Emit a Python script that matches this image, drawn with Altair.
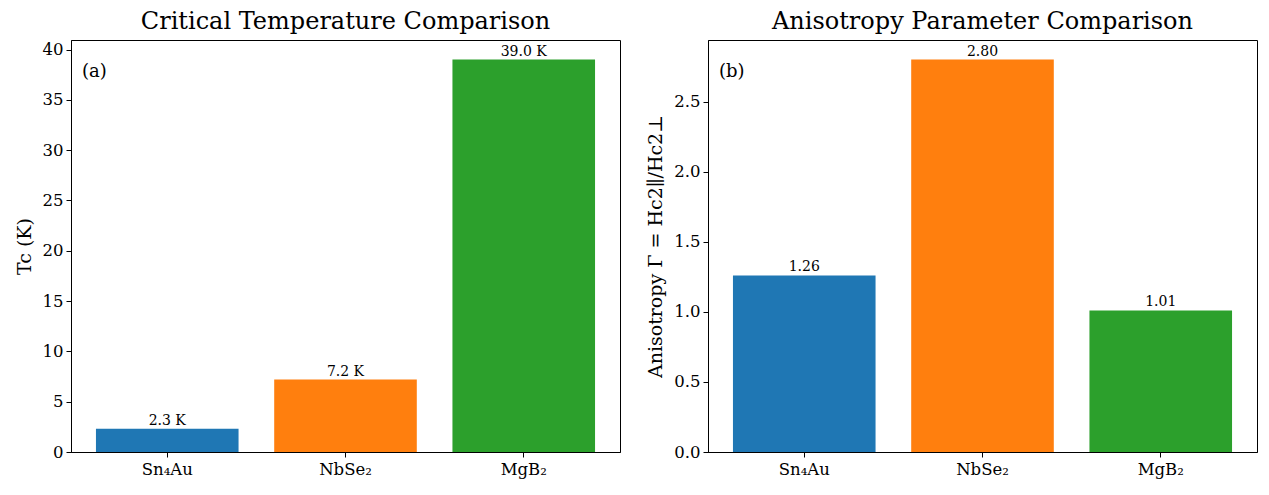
import altair as alt
import pandas as pd

materials = ["Sn₄Au", "NbSe₂", "MgB₂"]
tc_values = [2.3, 7.2, 39.0]
tc_labels = ["2.3 K", "7.2 K", "39.0 K"]
gamma_values = [1.26, 2.80, 1.01]
gamma_labels = ["1.26", "2.80", "1.01"]
bar_colors = ["#1f77b4", "#ff7f0e", "#2ca02c"]

FONT = "DejaVu Serif"

df = pd.DataFrame({
    "material": materials,
    "tc": tc_values,
    "tc_label": tc_labels,
    "gamma": gamma_values,
    "gamma_label": gamma_labels,
})

W, H = 549, 412


def panel(field, label_field, domain_max, tick_vals, fmt, ytitle, title, tag):
    x = alt.X("material:N", sort=materials,
              scale=alt.Scale(paddingInner=0.2, paddingOuter=0.14),
              axis=alt.Axis(title=None, labelAngle=0, labelFontSize=16.5,
                            labelPadding=4, tickSize=5))
    y = alt.Y(f"{field}:Q",
              scale=alt.Scale(domain=[0, domain_max], nice=False, zero=True),
              axis=alt.Axis(values=tick_vals, format=fmt, title=ytitle,
                            labelFontSize=16.5, titleFontSize=19,
                            titleFontWeight="normal", titlePadding=8,
                            tickSize=5, labelPadding=3, grid=False))
    base = alt.Chart(df)
    bars = base.mark_bar().encode(
        x=x, y=y,
        color=alt.Color("material:N",
                        scale=alt.Scale(domain=materials, range=bar_colors),
                        legend=None),
    )
    texts = base.mark_text(baseline="bottom", dy=-1, fontSize=14,
                           font=FONT, color="black").encode(
        x=alt.X("material:N", sort=materials),
        y=alt.Y(f"{field}:Q"),
        text=alt.Text(f"{label_field}:N"),
    )
    tag_df = pd.DataFrame({"t": [tag]})
    tag_mark = alt.Chart(tag_df).mark_text(
        align="left", baseline="middle", fontSize=18, font=FONT,
        color="black").encode(
        x=alt.value(11), y=alt.value(32), text="t:N")
    return alt.layer(bars, texts, tag_mark).properties(
        width=W, height=H,
        title=alt.TitleParams(title, fontSize=24, font=FONT,
                              fontWeight="normal", anchor="middle",
                              offset=6, color="black"),
    )


left = panel("tc", "tc_label", 40.95, [0, 5, 10, 15, 20, 25, 30, 35, 40],
             "d", "Tc (K)", "Critical Temperature Comparison", "(a)")
right = panel("gamma", "gamma_label", 2.94, [0.0, 0.5, 1.0, 1.5, 2.0, 2.5],
              ".1f", "Anisotropy Γ = Hc2∥/Hc2⊥",
              "Anisotropy Parameter Comparison", "(b)")

chart = alt.hconcat(left, right, spacing=25).properties(
    padding={"left": 14, "top": 9, "right": 5, "bottom": 5},
    background="white",
).configure_view(
    stroke="black", strokeWidth=1,
).configure_axis(
    labelFont=FONT, titleFont=FONT, labelColor="black", titleColor="black",
    domainColor="black", tickColor="black", domainWidth=1, tickWidth=1,
)

chart.save("out.html", embed_options={"renderer": "svg", "actions": False})
